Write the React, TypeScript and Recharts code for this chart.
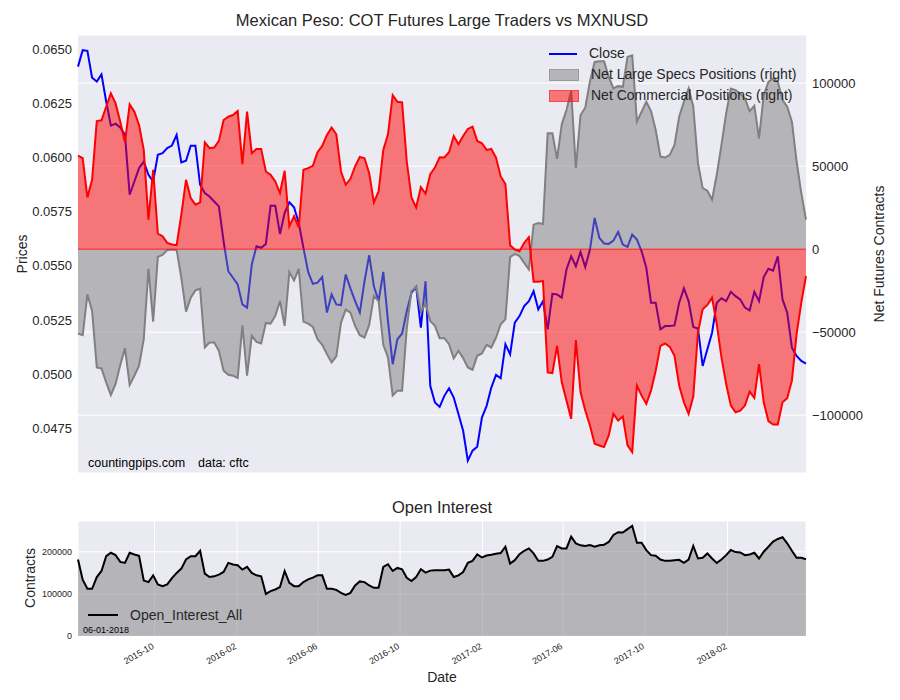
import { Area, CartesianGrid, ComposedChart, Legend, Line, ReferenceLine, XAxis, YAxis } from "recharts"

// weekly COT report dates, first one 2015-06-09
const FIRST_REPORT = Date.UTC(2015, 5, 9)
const WEEK_MS = 7 * 24 * 60 * 60 * 1000

const closePrices = [
  0.06419, 0.06495, 0.06492, 0.06368, 0.0635, 0.06383, 0.06258, 0.06147, 0.06156, 0.06138,
  0.06104, 0.05828, 0.05889, 0.05951, 0.05981, 0.0592, 0.05889, 0.06012, 0.0602, 0.06043,
  0.06055, 0.06104, 0.05977, 0.05985, 0.06054, 0.06054, 0.05874, 0.05836, 0.0582, 0.05797,
  0.05774, 0.05613, 0.05475, 0.05445, 0.05414, 0.05322, 0.05307, 0.05506, 0.0559,
  0.05583, 0.05601, 0.05777, 0.05777, 0.05647, 0.05744, 0.05793, 0.0577, 0.05698, 0.05583,
  0.05472, 0.05417, 0.05422, 0.05449, 0.05284, 0.05368, 0.05322, 0.05319, 0.0546, 0.05396,
  0.05337, 0.05284, 0.05429, 0.05549, 0.05406, 0.05337, 0.05472, 0.05245, 0.05046, 0.05161,
  0.05187, 0.05291, 0.05376, 0.05403, 0.05215, 0.05429, 0.04946, 0.04869, 0.04849,
  0.049, 0.04935, 0.04892, 0.04816, 0.04739, 0.04601, 0.04647, 0.04665, 0.048, 0.04854,
  0.04938, 0.04997, 0.04981, 0.05138, 0.05092, 0.05238, 0.05268, 0.05314, 0.05337, 0.05383,
  0.05299, 0.05337, 0.05207, 0.05371, 0.05368, 0.05353, 0.05483, 0.05544, 0.05498, 0.05564,
  0.05494, 0.05575, 0.05721, 0.05629, 0.05603, 0.05601, 0.05616, 0.05656, 0.05598,
  0.05587, 0.05644, 0.05621, 0.05567, 0.05491, 0.0533, 0.0533, 0.05207, 0.05222, 0.05222,
  0.05225, 0.0533, 0.05396, 0.05337, 0.05218, 0.05211, 0.05038, 0.05115, 0.05191, 0.0533,
  0.0535, 0.05337, 0.0538, 0.0536, 0.05345, 0.05307, 0.05294, 0.0538, 0.05337, 0.05448,
  0.05486, 0.05478, 0.05544, 0.05345, 0.05284, 0.05122, 0.05084, 0.05061, 0.05049,
]

const largeSpecs = [
  -50800, -51800, -27200, -37200, -71200, -71800, -80200, -87800, -81200, -69800,
  -59600, -81800, -76200, -70200, -54200, -11800, -43600, -4600, -3400, -500,
  -300, -400, -17200, -37600, -29200, -24800, -23800, -59200, -56200, -56200,
  -61200, -73200, -75600, -76200, -77600, -45800, -76200, -52200, -55800,
  -56800, -44400, -44800, -40200, -31200, -46200, -13800, -18800, -11800, -43600,
  -44800, -46800, -54200, -57600, -63200, -68200, -64600, -44200, -36400, -38200,
  -46200, -51800, -53200, -45600, -28200, -31200, -57600, -65200, -88200, -85200,
  -85200, -47600, -25200, -22800, -37600, -32800, -43200, -46200, -53600,
  -53600, -57200, -65800, -61200, -65600, -71200, -72600, -64200, -62800, -57600,
  -59200, -53200, -45200, -42200, -4800, -2800, -4200, -8200, -12200, 14800,
  15800, 15200, 69800, 69800, 54400, 75200, 83800, 95200, 48800, 80800,
  85200, 101000, 112800, 113200, 113200, 103800, 96800, 98200, 97800,
  115800, 116800, 76800, 82800, 88800, 83200, 71800, 55800, 55200, 56800,
  62800, 79800, 88800, 96800, 85800, 51800, 36800, 35200, 29800, 44800,
  62800, 81800, 96800, 95800, 93800, 90800, 83200, 86400, 66800, 92800,
  100800, 102800, 100800, 89800, 85800, 76800, 52800, 33800, 17800,
]

const commercial = [
  56400, 54800, 31200, 41800, 77200, 77600, 85800, 93800, 87800, 76800,
  64400, 87200, 82800, 74800, 59800, 17800, 47800, 9400, 7800, 3800,
  2800, 2400, 20800, 41800, 30800, 26800, 28200, 64400, 60800, 61200,
  65200, 77800, 79800, 80800, 83200, 51200, 82800, 57800, 60400,
  60400, 46800, 44800, 40800, 33800, 47200, 13800, 19800, 13200, 47800,
  48800, 50200, 58400, 62200, 68800, 73200, 69200, 46800, 38800, 42400,
  49800, 55600, 54800, 45800, 28200, 34800, 59800, 69200, 92800, 88800,
  88400, 52800, 31200, 25200, 37400, 33400, 45200, 49200, 55400,
  55200, 58400, 68200, 63200, 68200, 72400, 73800, 65200, 63800, 59800,
  60400, 55200, 43800, 39200, 2400, -200, -1200, 3800, 7200, -19600,
  -19600, -19200, -74200, -74600, -58200, -80200, -91200, -102200, -54800, -86200,
  -97200, -106200, -117200, -118200, -119200, -112200, -99200, -103200, -100800,
  -118200, -122200, -82200, -88200, -93200, -85200, -73200, -58200, -56800, -58800,
  -64200, -82200, -92200, -99200, -88800, -50200, -36200, -33600, -29200, -45200,
  -65200, -81200, -94200, -98200, -97200, -94200, -85800, -89600, -69200, -92200,
  -103600, -105600, -105600, -92200, -89800, -79200, -51200, -32200, -16200,
]

const openInterest = [
  181600, 133600, 112000, 112000, 140000, 154400, 189600, 197600, 192000, 176000,
  173600, 197600, 193600, 190400, 132000, 128000, 144000, 122400, 118400, 122400,
  137600, 149600, 160000, 181600, 189600, 189600, 202400, 148000, 140000, 141600,
  145600, 152000, 173600, 169600, 168000, 157600, 164000, 149600, 144000, 141600,
  100000, 106400, 110400, 116000, 154400, 126400, 118400, 118400, 128000, 134400,
  138400, 144000, 144000, 112000, 112000, 109600, 102400, 97600, 102400, 120000,
  129600, 128000, 120000, 114400, 114400, 164000, 170400, 154400, 161600, 158400,
  138400, 130400, 140000, 158400, 150400, 155200, 156000, 156000,
  156000, 157600, 140000, 144000, 152000, 173600, 178400, 193600, 186400, 191200,
  192800, 195200, 196800, 212000, 172000, 180000, 194400, 202400, 208000, 196000,
  178400, 178400, 181600, 188000, 213600, 208000, 208000, 236000, 220000, 215200,
  213600, 216000, 212000, 215200, 216800, 223200, 240000, 246400, 245600, 253600,
  261600, 221600, 221600, 204000, 192000, 190400, 181600, 178400, 178400, 180000,
  180800, 173600, 181600, 213600, 184000, 185600, 196000, 184000, 173600, 181600,
  192000, 204000, 199200, 198400, 192000, 193600, 197600, 184000, 200000, 212000,
  224000, 230400, 234400, 220000, 202400, 185600, 185600, 182400,
]

const priceTicks = [0.0475, 0.05, 0.0525, 0.055, 0.0575, 0.06, 0.0625, 0.065]
const positionTicks = [-100000, -50000, 0, 50000, 100000]
const oiTicks = [0, 100000, 200000]
const monthTicks = [
  Date.UTC(2015, 9, 1), Date.UTC(2016, 1, 1), Date.UTC(2016, 5, 1), Date.UTC(2016, 9, 1),
  Date.UTC(2017, 1, 1), Date.UTC(2017, 5, 1), Date.UTC(2017, 9, 1), Date.UTC(2018, 1, 1),
]

const reportDates = closePrices.map((_, i) => FIRST_REPORT + i * WEEK_MS)
const data = reportDates.map((t, i) => ({
  t,
  close: closePrices[i],
  specs: largeSpecs[i],
  comm: commercial[i],
  oi: openInterest[i],
}))
const dateDomain = [reportDates[0], reportDates[reportDates.length - 1]]

const TEXT = "#262626"
const FONT = "'Liberation Sans', Arial, sans-serif"

const fmtSigned = (v: number) => (v < 0 ? "\u2212" + Math.abs(v) : String(v))
const fmtMonth = (t: number) => {
  const d = new Date(t)
  return `${d.getUTCFullYear()}-${String(d.getUTCMonth() + 1).padStart(2, "0")}`
}

function MonthTick({ x, y, payload }: any) {
  return (
    <text
      x={x}
      y={y}
      transform={`rotate(-30 ${x} ${y})`}
      textAnchor="end"
      fontSize={9}
      fill={TEXT}
    >
      {fmtMonth(payload.value)}
    </text>
  )
}

function TopLegend() {
  const swatch = { width: 28, marginRight: 12 }
  return (
    <div style={{ fontSize: 14, color: TEXT, lineHeight: "21px" }}>
      <div style={{ display: "flex", alignItems: "center", height: 21 }}>
        <span style={{ ...swatch, height: 0, borderTop: "2px solid #0000ff" }} />
        <span>Close</span>
      </div>
      <div style={{ display: "flex", alignItems: "center", height: 21 }}>
        <span style={{ ...swatch, height: 10, background: "rgba(128,128,128,0.5)", border: "1px solid rgba(128,128,128,0.5)" }} />
        <span>Net Large Specs Positions (right)</span>
      </div>
      <div style={{ display: "flex", alignItems: "center", height: 21 }}>
        <span style={{ ...swatch, height: 10, background: "rgba(255,0,0,0.5)", border: "1px solid rgba(255,0,0,0.4)" }} />
        <span>Net Commercial Positions (right)</span>
      </div>
    </div>
  )
}

function OiLegend() {
  return (
    <div style={{ display: "flex", alignItems: "center", fontSize: 14, color: TEXT }}>
      <span style={{ width: 30, height: 0, borderTop: "2px solid #000", marginRight: 12 }} />
      <span>Open_Interest_All</span>
    </div>
  )
}

export default function App() {
  return (
    <div style={{ position: "absolute", left: 0, top: 0, width: 900, height: 700, background: "#fff", fontFamily: FONT }}>
      <div style={{ position: "absolute", left: 0, top: 0 }}>
        <ComposedChart width={900} height={490} data={data} margin={{ top: 35, right: 0, bottom: 17, left: 0 }}>
          <CartesianGrid yAxisId="right" vertical={false} stroke="#ffffff" strokeWidth={1} fill="#EAEAF2" fillOpacity={1} />
          <XAxis dataKey="t" type="number" domain={dateDomain} hide />
          <YAxis
            yAxisId="left"
            orientation="left"
            width={78}
            domain={[0.04544, 0.06565]}
            allowDataOverflow
            ticks={priceTicks}
            interval={0}
            tickFormatter={(v: number) => v.toFixed(4)}
            axisLine={false}
            tickLine={false}
            tickSize={0}
            tickMargin={6}
            tick={{ fontSize: 13, fill: TEXT }}
          />
          <YAxis
            yAxisId="right"
            orientation="right"
            width={94}
            domain={[-134800, 129000]}
            allowDataOverflow
            ticks={positionTicks}
            interval={0}
            tickFormatter={fmtSigned}
            axisLine={false}
            tickLine={false}
            tickSize={0}
            tickMargin={6}
            tick={{ fontSize: 13, fill: TEXT }}
          />
          <Line
            yAxisId="left"
            dataKey="close"
            stroke="#0000ff"
            strokeWidth={2}
            dot={false}
            activeDot={false}
            isAnimationActive={false}
            zIndex={50}
          />
          <Area
            yAxisId="right"
            dataKey="specs"
            baseValue={0}
            stroke="#808080"
            strokeWidth={2}
            fill="#808080"
            fillOpacity={0.5}
            activeDot={false}
            isAnimationActive={false}
          />
          <Area
            yAxisId="right"
            dataKey="comm"
            baseValue={0}
            stroke="#ff0000"
            strokeWidth={2}
            fill="#ff0000"
            fillOpacity={0.5}
            activeDot={false}
            isAnimationActive={false}
          />
          <ReferenceLine yAxisId="right" y={0} stroke="#ff0000" strokeOpacity={0.55} strokeWidth={1.5} />
          <Legend
            layout="vertical"
            align="center"
            verticalAlign="middle"
            content={<TopLegend />}
            wrapperStyle={{ top: 43, left: 549, width: 260, height: 63 }}
          />
        </ComposedChart>
      </div>

      <div style={{ position: "absolute", left: 0, top: 490 }}>
        <ComposedChart width={900} height={210} data={data} margin={{ top: 31, right: 94, bottom: 0, left: 0 }}>
          <CartesianGrid stroke="#ffffff" strokeWidth={1} fill="#EAEAF2" fillOpacity={1} />
          <XAxis
            dataKey="t"
            type="number"
            domain={dateDomain}
            ticks={monthTicks}
            interval={0}
            height={64}
            axisLine={false}
            tickLine={false}
            tickSize={0}
            tickMargin={12}
            tick={<MonthTick />}
          />
          <YAxis
            width={78}
            domain={[0, 273000]}
            allowDataOverflow
            ticks={oiTicks}
            interval={0}
            axisLine={false}
            tickLine={false}
            tickSize={0}
            tickMargin={6}
            tick={{ fontSize: 9, fill: TEXT }}
          />
          <Area
            dataKey="oi"
            baseValue={0}
            stroke="#000000"
            strokeWidth={2}
            fill="#808080"
            fillOpacity={0.5}
            activeDot={false}
            isAnimationActive={false}
          />
          <Legend
            layout="vertical"
            align="center"
            verticalAlign="middle"
            content={<OiLegend />}
            wrapperStyle={{ top: 117, left: 88, width: 160, height: 20 }}
          />
        </ComposedChart>
      </div>

      <svg width={900} height={700} style={{ position: "absolute", left: 0, top: 0, pointerEvents: "none" }}>
        <g fill={TEXT} fontFamily={FONT}>
          <text x={442} y={26} fontSize={16.5} textAnchor="middle">
            Mexican Peso: COT Futures Large Traders vs MXNUSD
          </text>
          <text x={27} y={254} fontSize={14} textAnchor="middle" transform="rotate(-90 27 254)">
            Prices
          </text>
          <text x={884} y={254} fontSize={14} textAnchor="middle" transform="rotate(-90 884 254)">
            Net Futures Contracts
          </text>
          <text x={88} y={467} fontSize={12.5} fill="#000">countingpips.com</text>
          <text x={198} y={467} fontSize={12.5} fill="#000">data: cftc</text>
          <text x={442} y={513} fontSize={16.5} textAnchor="middle">
            Open Interest
          </text>
          <text x={35} y={578} fontSize={14} textAnchor="middle" transform="rotate(-90 35 578)">
            Contracts
          </text>
          <text x={83} y={633} fontSize={9} fill="#000">06-01-2018</text>
          <text x={442} y={682} fontSize={14} textAnchor="middle">
            Date
          </text>
        </g>
      </svg>
    </div>
  )
}
